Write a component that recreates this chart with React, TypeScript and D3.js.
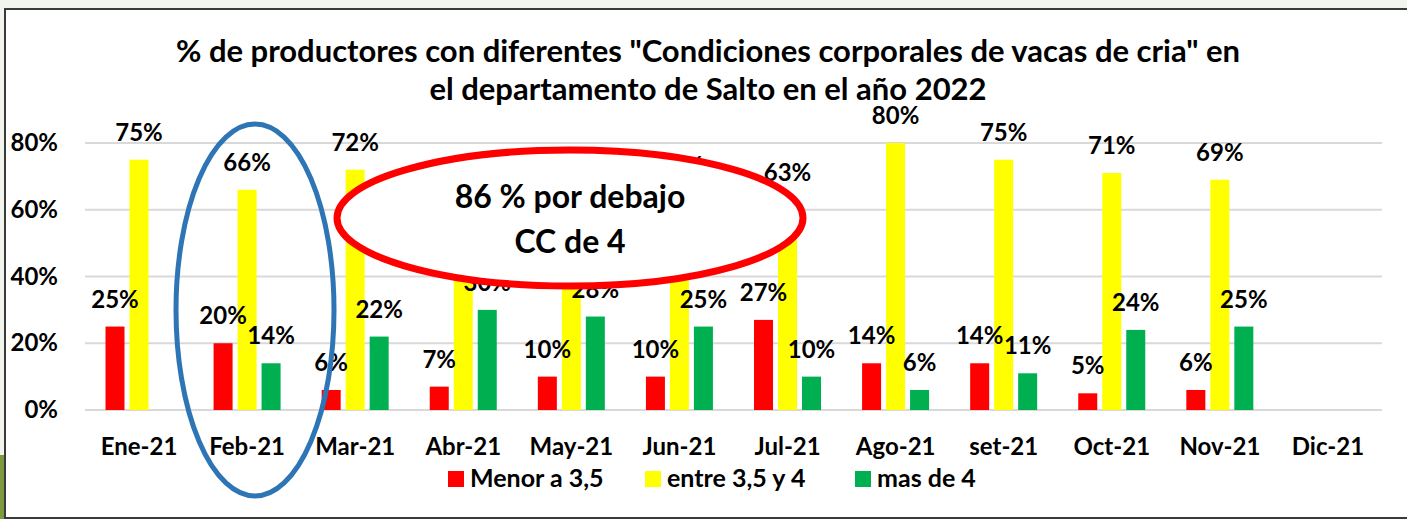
import React, { useEffect, useRef } from 'react';
import * as d3 from 'd3';

const months = ['Ene-21', 'Feb-21', 'Mar-21', 'Abr-21', 'May-21', 'Jun-21', 'Jul-21', 'Ago-21', 'set-21', 'Oct-21', 'Nov-21', 'Dic-21'];
const seriesNames = ['Menor a 3,5', 'entre 3,5 y 4', 'mas de 4'];
const seriesColors = ['#ff0000', '#ffff00', '#00b050'];
// null = no bar in that month
const menor = [0.25, 0.20, 0.06, 0.07, 0.10, 0.10, 0.27, 0.14, 0.14, 0.05, 0.06, null];
const entre = [0.75, 0.66, 0.72, 0.63, 0.62, 0.65, 0.63, 0.80, 0.75, 0.71, 0.69, null];
const mas = [null, 0.14, 0.22, 0.30, 0.28, 0.25, 0.10, 0.06, 0.11, 0.24, 0.25, null];
const yTicks = [0, 0.2, 0.4, 0.6, 0.8];
const titleLines = [
  '% de productores con diferentes "Condiciones corporales de vacas de cria" en',
  'el departamento de Salto en el año 2022',
];
const noteLines = ['86 % por debajo', 'CC de 4'];

const W = 1407;
const H = 519;
const FONT = 'Lato, "Open Sans", sans-serif';

const App = () => {
  const svgRef = useRef<SVGSVGElement>(null);

  useEffect(() => {
    const svg = d3.select(svgRef.current);
    svg.selectAll('*').remove();

    const x = d3.scaleBand().domain(months).range([85, 1382]);
    const x1 = d3.scaleBand().domain(seriesNames).range([20.5, 87.5]).paddingInner(0.208);
    const y = d3.scaleLinear().domain([0, 0.8]).range([410, 143]);
    const fmt = d3.format('.0%');

    // page background + frame
    svg.append('rect').attr('width', W).attr('height', H).attr('fill', '#f2f5ee');
    svg.append('rect').attr('x', 0).attr('y', 455).attr('width', 5).attr('height', 64).attr('fill', '#7d9a3c');
    svg.append('rect')
      .attr('x', 5).attr('y', 9).attr('width', W).attr('height', 509)
      .attr('fill', 'white').attr('stroke', '#3a3a3a').attr('stroke-width', 2);

    // title
    svg.append('g')
      .selectAll('text')
      .data(titleLines)
      .join('text')
      .attr('x', 708)
      .attr('y', (d, i) => 62 + i * 38)
      .attr('text-anchor', 'middle')
      .style('font', `bold 31px ${FONT}`)
      .attr('fill', '#000')
      .text(d => d);

    // gridlines
    svg.append('g')
      .selectAll('line')
      .data(yTicks)
      .join('line')
      .attr('x1', 85).attr('x2', 1382)
      .attr('y1', d => y(d)).attr('y2', d => y(d))
      .attr('stroke', '#d9d9d9').attr('stroke-width', 2);

    // y tick labels
    svg.append('g')
      .selectAll('text')
      .data(yTicks)
      .join('text')
      .attr('x', 58)
      .attr('y', d => y(d) + 8)
      .attr('text-anchor', 'end')
      .style('font', `bold 24px ${FONT}`)
      .text(d => fmt(d));

    // x labels
    svg.append('g')
      .selectAll('text')
      .data(months)
      .join('text')
      .attr('x', d => (x(d) as number) + x.bandwidth() / 2)
      .attr('y', 455)
      .attr('text-anchor', 'middle')
      .style('font', `bold 24px ${FONT}`)
      .text(d => d);

    const all = [menor, entre, mas];
    const rows: { month: string; s: string; v: number; c: string }[] = [];
    months.forEach((m, i) => {
      all.forEach((arr, k) => {
        const v = arr[i];
        if (v != null) rows.push({ month: m, s: seriesNames[k], v, c: seriesColors[k] });
      });
    });

    const bx = (d: { month: string; s: string }) => (x(d.month) as number) + (x1(d.s) as number);

    svg.append('g')
      .selectAll('rect')
      .data(rows)
      .join('rect')
      .attr('x', bx)
      .attr('y', d => y(d.v))
      .attr('width', x1.bandwidth())
      .attr('height', d => y(0) - y(d.v))
      .attr('fill', d => d.c);

    svg.append('g')
      .selectAll('text')
      .data(rows)
      .join('text')
      .attr('x', d => bx(d) + x1.bandwidth() / 2)
      .attr('y', d => y(d.v) - 19)
      .attr('text-anchor', 'middle')
      .style('font', `bold 24px ${FONT}`)
      .text(d => fmt(d.v));

    // legend
    const legX = [448, 645, 855];
    const leg = svg.append('g')
      .selectAll('g')
      .data(seriesNames)
      .join('g')
      .attr('transform', (d, i) => `translate(${legX[i]},471)`);
    leg.append('rect').attr('width', 16).attr('height', 16).attr('fill', (d, i) => seriesColors[i]);
    leg.append('text')
      .attr('x', 22).attr('y', 16)
      .style('font', `bold 25px ${FONT}`)
      .text(d => d);

    // blue ellipse around Feb
    svg.append('ellipse')
      .attr('cx', 255).attr('cy', 310).attr('rx', 79).attr('ry', 186)
      .attr('fill', 'none').attr('stroke', '#2e75b6').attr('stroke-width', 5);

    // red callout ellipse
    svg.append('ellipse')
      .attr('cx', 570).attr('cy', 218).attr('rx', 233).attr('ry', 68)
      .attr('fill', 'white').attr('stroke', '#ff0000').attr('stroke-width', 7);
    svg.append('g')
      .selectAll('text')
      .data(noteLines)
      .join('text')
      .attr('x', 570)
      .attr('y', (d, i) => 208 + i * 45)
      .attr('text-anchor', 'middle')
      .style('font', `bold 32px ${FONT}`)
      .text(d => d);
  }, []);

  return (
    <div style={{ position: 'absolute', left: 0, top: 0 }}>
      <svg ref={svgRef} width={W} height={H} style={{ display: 'block' }} />
    </div>
  );
};

export default App;
